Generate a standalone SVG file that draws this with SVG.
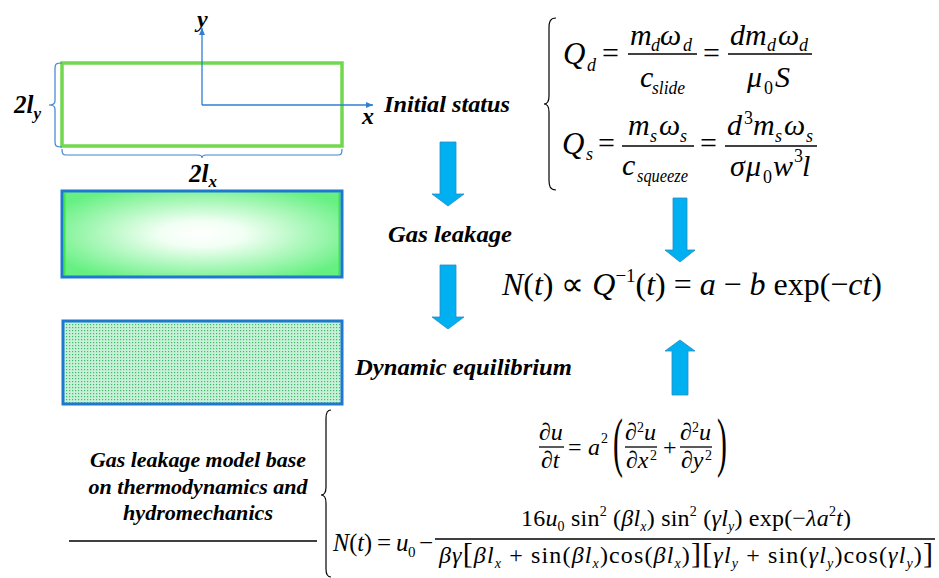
<svg xmlns="http://www.w3.org/2000/svg" width="939" height="578" viewBox="0 0 939 578" font-family="Liberation Serif, Times New Roman, serif">
<style>
text{fill:#000}
.m{font-style:italic}
.r{font-style:normal}
.lbl{font-weight:bold;font-style:italic}
.bar{stroke:#000;stroke-width:1.3}
.br{fill:none;stroke:#000;stroke-width:1.2}
.dim{fill:none;stroke:#3a86d2;stroke-width:1.2}
.arr{fill:#00b0f0;stroke:#2a8cc4;stroke-width:0.8}
</style>
<defs>
<radialGradient id="glow" cx="0.5" cy="0.5" r="0.6">
<stop offset="0" stop-color="#ffffff"/>
<stop offset="0.25" stop-color="#f2fff4"/>
<stop offset="1" stop-color="#66f082"/>
</radialGradient>
<pattern id="dots" width="3" height="3" patternUnits="userSpaceOnUse">
<rect width="3" height="3" fill="#c8f0d6"/>
<rect width="1.2" height="1.2" fill="#38bd6c"/>
</pattern>
<marker id="ah" markerWidth="8" markerHeight="8" refX="7" refY="4" orient="auto" markerUnits="userSpaceOnUse">
<path d="M0,1 L7,4 L0,7 Z" fill="#2f7fd0"/>
</marker>
</defs>
<rect width="939" height="578" fill="#fff"/>

<g id="initial-node">
<rect x="62" y="63" width="280" height="83" fill="#fff" stroke="#72d84e" stroke-width="3.5"/>
<line x1="202" y1="105" x2="202" y2="28" stroke="#2f7fd0" stroke-width="1.3" marker-end="url(#ah)"/>
<line x1="202" y1="105" x2="373" y2="105" stroke="#2f7fd0" stroke-width="1.3" marker-end="url(#ah)"/>
<text class="lbl" x="197" y="27" font-size="24">y</text>
<text class="lbl" x="362" y="124" font-size="24">x</text>
<path class="dim" d="M62,63 C56,63 55,64 55,68 L55,101 C55,104 53,105 49,105 C53,105 55,106 55,109 L55,142 C55,146 56,147 62,147"/>
<path class="dim" d="M62,149 C62,154 63,155 66,155 L198,155 C201,155 202,156 202,158 C202,156 203,155 206,155 L338,155 C341,155 342,154 342,149"/>
<text class="lbl" x="14" y="113" font-size="25">2l<tspan font-size="17" dy="6">y</tspan></text>
<text class="lbl" x="189" y="182" font-size="25">2l<tspan font-size="17" dy="5">x</tspan></text>
</g>

<g id="leakage-node">
<rect x="62" y="191" width="280" height="86" fill="url(#glow)" stroke="#1f78d0" stroke-width="3"/>
<line x1="64.8" y1="193" x2="64.8" y2="275" stroke="#3ce04a" stroke-width="1.3"/>
<line x1="339.2" y1="193" x2="339.2" y2="275" stroke="#3ce04a" stroke-width="1.3"/>
</g>

<g id="equilibrium-node">
<rect x="63" y="321" width="279" height="83" fill="url(#dots)" stroke="#1f78d0" stroke-width="3"/>
</g>

<g id="labels">
<text class="lbl" x="384" y="112" font-size="24" textLength="126" lengthAdjust="spacingAndGlyphs">Initial status</text>
<text class="lbl" x="388" y="242" font-size="24" textLength="124" lengthAdjust="spacingAndGlyphs">Gas leakage</text>
<text class="lbl" x="355" y="375" font-size="24" textLength="217" lengthAdjust="spacingAndGlyphs">Dynamic equilibrium</text>
</g>

<g id="connectors">
<polygon class="arr" points="440,142 456,142 456,194 464,194 448,206 432,194 440,194"/>
<polygon class="arr" points="440,265 456,265 456,317 464,317 448,329 432,317 440,317"/>
<polygon class="arr" points="673,198 687,198 687,250 695,250 680,262 665,250 673,250"/>
<polygon class="arr" points="665,351 680,340 695,351 688,351 688,395 672,395 672,351"/>
</g>

<g id="flow-equations">
<path class="br" d="M556,18 C550,18 549,22 549,28 L549,96 C549,101 547,104 544,104 C547,104 549,107 549,112 L549,180 C549,186 550,190 556,190"/>
<text class="m" x="563" y="64" font-size="31">Q</text>
<text class="m" x="587" y="71" font-size="18">d</text>
<text class="r" x="602" y="63" font-size="30">=</text>
<text class="m" x="630" y="45" font-size="30">m</text>
<text class="m" x="651" y="51" font-size="18">d</text>
<text class="m" x="660" y="45" font-size="30">ω</text>
<text class="m" x="683" y="51" font-size="18">d</text>
<line class="bar" x1="628" y1="54" x2="697" y2="54"/>
<text class="m" x="640" y="87" font-size="30">c</text>
<text class="m" x="652" y="94" font-size="18" textLength="33" lengthAdjust="spacingAndGlyphs">slide</text>
<text class="r" x="703" y="63" font-size="30">=</text>
<text class="m" x="730" y="45" font-size="30">d</text>
<text class="m" x="745" y="45" font-size="30">m</text>
<text class="m" x="767" y="51" font-size="18">d</text>
<text class="m" x="778" y="45" font-size="30">ω</text>
<text class="m" x="799" y="51" font-size="18">d</text>
<line class="bar" x1="728" y1="54" x2="812" y2="54"/>
<text class="m" x="747" y="87" font-size="30">μ</text>
<text class="r" x="764" y="94" font-size="18">0</text>
<text class="m" x="775" y="87" font-size="30">S</text>
<text class="m" x="562" y="154" font-size="31">Q</text>
<text class="m" x="586" y="160" font-size="18">s</text>
<text class="r" x="598" y="153" font-size="30">=</text>
<text class="m" x="628" y="135" font-size="30">m</text>
<text class="m" x="650" y="142" font-size="18">s</text>
<text class="m" x="659" y="135" font-size="30">ω</text>
<text class="m" x="680" y="142" font-size="18">s</text>
<line class="bar" x1="622" y1="146" x2="694" y2="146"/>
<text class="m" x="622" y="175" font-size="30">c</text>
<text class="m" x="637" y="182" font-size="18" textLength="51" lengthAdjust="spacingAndGlyphs">squeeze</text>
<text class="r" x="700" y="153" font-size="30">=</text>
<text class="m" x="727" y="135" font-size="30">d</text>
<text class="r" x="744" y="124" font-size="18">3</text>
<text class="m" x="753" y="135" font-size="30">m</text>
<text class="m" x="775" y="142" font-size="18">s</text>
<text class="m" x="784" y="135" font-size="30">ω</text>
<text class="m" x="806" y="142" font-size="18">s</text>
<line class="bar" x1="725" y1="146" x2="817" y2="146"/>
<text class="m" x="730" y="176" font-size="30">σ</text>
<text class="m" x="746" y="176" font-size="30">μ</text>
<text class="r" x="763" y="183" font-size="18">0</text>
<text class="m" x="773" y="176" font-size="30">w</text>
<text class="r" x="794" y="162" font-size="18">3</text>
<text class="m" x="802" y="176" font-size="30">l</text>
</g>

<g id="result-equation">
<text class="m" x="502" y="295" font-size="32" textLength="380" lengthAdjust="spacing">N<tspan class="r">(</tspan>t<tspan class="r">) ∝ </tspan>Q<tspan class="r" font-size="19" dy="-13">−1</tspan><tspan class="r" dy="13">(</tspan>t<tspan class="r">) = </tspan>a<tspan class="r"> − </tspan>b<tspan class="r"> exp(−</tspan>ct<tspan class="r">)</tspan></text>
</g>

<g id="model-node">
<text class="lbl" x="198" y="467" font-size="22" text-anchor="middle" textLength="216" lengthAdjust="spacingAndGlyphs">Gas leakage model base</text>
<text class="lbl" x="198" y="494" font-size="22" text-anchor="middle" textLength="219" lengthAdjust="spacingAndGlyphs">on thermodynamics and</text>
<text class="lbl" x="198" y="520" font-size="22" text-anchor="middle" textLength="150" lengthAdjust="spacingAndGlyphs">hydromechanics</text>
<line x1="69" y1="541" x2="317" y2="541" stroke="#000" stroke-width="1.3"/>
</g>

<g id="model-equations">
<path class="br" d="M331,410 C327,410 326,414 326,418 L326,487 C326,492 324,495 321,495 C324,495 326,498 326,503 L326,569 C326,574 327,577 331,577"/>
<text class="r" x="539" y="440" font-size="24">∂<tspan class="m">u</tspan></text>
<line class="bar" x1="539" y1="447" x2="564" y2="447"/>
<text class="r" x="541" y="468" font-size="24">∂<tspan class="m">t</tspan></text>
<text class="r" x="568" y="455" font-size="24">=</text>
<text class="m" x="588" y="455" font-size="24">a</text>
<text class="r" x="601" y="443" font-size="14">2</text>
<text class="r" transform="translate(613,464) scale(0.45,1)" font-size="66">(</text>
<text class="r" x="625" y="440" font-size="24">∂</text>
<text class="r" x="637" y="432" font-size="14">2</text>
<text class="m" x="644" y="440" font-size="24">u</text>
<line class="bar" x1="625" y1="447" x2="657" y2="447"/>
<text class="r" x="626" y="468" font-size="24">∂<tspan class="m">x</tspan></text>
<text class="r" x="650" y="460" font-size="14">2</text>
<text class="r" x="663" y="455" font-size="24">+</text>
<text class="r" x="680" y="440" font-size="24">∂</text>
<text class="r" x="692" y="432" font-size="14">2</text>
<text class="m" x="699" y="440" font-size="24">u</text>
<line class="bar" x1="680" y1="447" x2="712" y2="447"/>
<text class="r" x="681" y="468" font-size="24">∂<tspan class="m">y</tspan></text>
<text class="r" x="705" y="460" font-size="14">2</text>
<text class="r" transform="translate(717,464) scale(0.45,1)" font-size="66">)</text>
<text class="m" x="333" y="551" font-size="25" textLength="39" lengthAdjust="spacingAndGlyphs">N<tspan class="r">(</tspan>t<tspan class="r">)</tspan></text>
<text class="r" x="377" y="551" font-size="25">=</text>
<text class="m" x="396" y="551" font-size="25">u</text>
<text class="r" x="408" y="557" font-size="15">0</text>
<text class="r" x="419" y="551" font-size="25">−</text>
<line class="bar" x1="435" y1="539" x2="935" y2="539"/>
<text class="m" x="521" y="526" font-size="24" textLength="330" lengthAdjust="spacing"><tspan class="r">16</tspan>u<tspan class="r" font-size="14" dy="5">0</tspan><tspan class="r" dy="-5"> sin</tspan><tspan class="r" font-size="14" dy="-10">2</tspan><tspan class="r" dy="10"> (</tspan>βl<tspan font-size="14" dy="5">x</tspan><tspan class="r" dy="-5">) sin</tspan><tspan class="r" font-size="14" dy="-10">2</tspan><tspan class="r" dy="10"> (</tspan>γl<tspan font-size="14" dy="5">y</tspan><tspan class="r" dy="-5">) exp(−</tspan>λa<tspan class="r" font-size="14" dy="-10">2</tspan><tspan dy="10">t</tspan><tspan class="r">)</tspan></text>
<text class="m" x="439" y="563" font-size="24" textLength="494" lengthAdjust="spacing">βγ<tspan class="r" font-size="30">[</tspan>βl<tspan font-size="14" dy="5">x</tspan><tspan class="r" dy="-5"> + sin(</tspan>βl<tspan font-size="14" dy="5">x</tspan><tspan class="r" dy="-5">)cos(</tspan>βl<tspan font-size="14" dy="5">x</tspan><tspan class="r" dy="-5">)</tspan><tspan class="r" font-size="30">][</tspan>γl<tspan font-size="14" dy="5">y</tspan><tspan class="r" dy="-5"> + sin(</tspan>γl<tspan font-size="14" dy="5">y</tspan><tspan class="r" dy="-5">)cos(</tspan>γl<tspan font-size="14" dy="5">y</tspan><tspan class="r" dy="-5">)</tspan><tspan class="r" font-size="30">]</tspan></text>
</g>
</svg>
